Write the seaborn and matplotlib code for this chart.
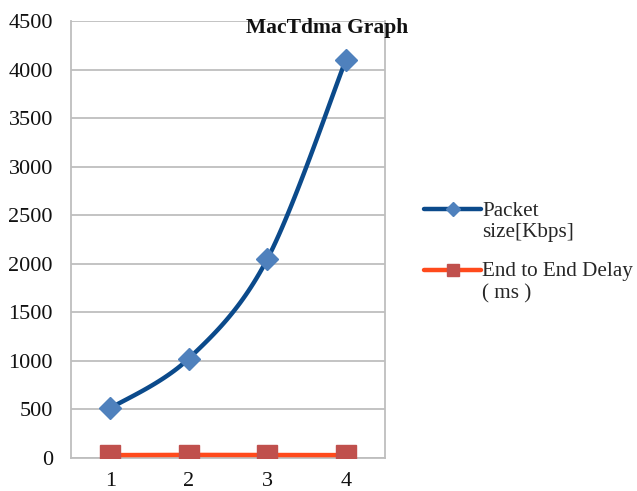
import numpy as np
import pandas as pd
import seaborn as sns
import matplotlib
matplotlib.use("Agg")
import matplotlib.pyplot as plt
from matplotlib.lines import Line2D
from matplotlib.legend_handler import HandlerLine2D

categories = [1, 2, 3, 4]
packet_size = [512, 1024, 2048, 4096]
delay = [30, 32, 31, 30]
yticks = [0, 500, 1000, 1500, 2000, 2500, 3000, 3500, 4000, 4500]

sns.set_theme(style="white")
plt.rcParams['font.family'] = ['Liberation Serif', 'DejaVu Serif']

fig = plt.figure(figsize=(6.37, 4.91), dpi=100)
ax = fig.add_axes([0.1115, 0.0672, 0.4929, 0.89])

def catmull(xs, ys, n=30):
    xs = np.asarray(xs, float); ys = np.asarray(ys, float)
    P = np.column_stack([xs, ys])
    P = np.vstack([P[0], P, P[-1]])
    out = []
    for i in range(1, len(P) - 2):
        p0, p1, p2, p3 = P[i-1], P[i], P[i+1], P[i+2]
        t = np.linspace(0, 1, n)[:, None]
        c = 0.5 * ((2*p1) + (-p0 + p2)*t + (2*p0 - 5*p1 + 4*p2 - p3)*t**2 + (-p0 + 3*p1 - 3*p2 + p3)*t**3)
        out.append(c if i == 1 else c[1:])
    return np.vstack(out)

blue_line = "#0B4A8B"
blue_mark = "#4F81BD"
red_line = "#FF4A1C"
red_mark = "#C0504D"

s = catmull(categories, packet_size)
sns.lineplot(x=s[:, 0], y=s[:, 1], ax=ax, color=blue_line, lw=3.2, sort=False, zorder=3)
ax.plot(categories, packet_size, ls='none', marker='D', ms=11, color=blue_mark, zorder=4)
sns.lineplot(x=categories, y=delay, ax=ax, color=red_line, lw=3.2, zorder=3)
ax.plot(categories, delay, ls='none', marker='s', ms=14, color=red_mark, zorder=4)

ax.set_xlim(0.5, 4.5)
ax.set_ylim(0, 4500)
ax.set_yticks(yticks)
ax.set_xticks(categories)
ax.set_xticklabels([str(c) for c in categories])
ax.yaxis.grid(True, color="#BEBEBE", lw=1.3)
ax.set_axisbelow(True)
for sp in ["left", "bottom", "right"]:
    ax.spines[sp].set_color("#BEBEBE")
    ax.spines[sp].set_linewidth(1.3)
ax.spines["top"].set_visible(False)
ax.tick_params(axis='y', length=5, color="#BEBEBE", width=1.3, labelsize=16, pad=8, labelcolor="#111111")
ax.tick_params(axis='x', length=0, labelsize=16, pad=10, labelcolor="#111111")
ax.set_xticks([0.5, 1.5, 2.5, 3.5, 4.5], minor=True)
ax.tick_params(axis='x', which='minor', length=5, color="#BEBEBE", width=1.3)

ax.text(0.815, 1.008, "MacTdma Graph", transform=ax.transAxes, ha='center', va='top',
        fontsize=15.5, fontweight='bold', color="#111111")


class UpHandler(HandlerLine2D):
    def __init__(self, dy, **kw):
        super().__init__(**kw)
        self.dy = dy

    def create_artists(self, legend, orig_handle, xdescent, ydescent, width, height, fontsize, trans):
        arts = super().create_artists(legend, orig_handle, xdescent, ydescent, width, height, fontsize, trans)
        for a in arts:
            a.set_ydata(np.asarray(a.get_ydata(), float) + self.dy)
        return arts


h1 = Line2D([], [], color=blue_line, lw=3.2, marker='D', ms=7, markerfacecolor=blue_mark, markeredgecolor=blue_mark)
h2 = Line2D([], [], color=red_line, lw=3.2, marker='s', ms=9, markerfacecolor=red_mark, markeredgecolor=red_mark)
fig.legend([h1, h2], ["Packet\nsize[Kbps]", "End to End Delay\n( ms )"], loc='upper left',
           bbox_to_anchor=(0.6495, 0.611), frameon=False, fontsize=15.2, handlelength=2.7,
           handletextpad=0.05, labelspacing=0.95, borderpad=0,
           handler_map={Line2D: UpHandler(9.4)})

fig.savefig("out.png", dpi=100)
